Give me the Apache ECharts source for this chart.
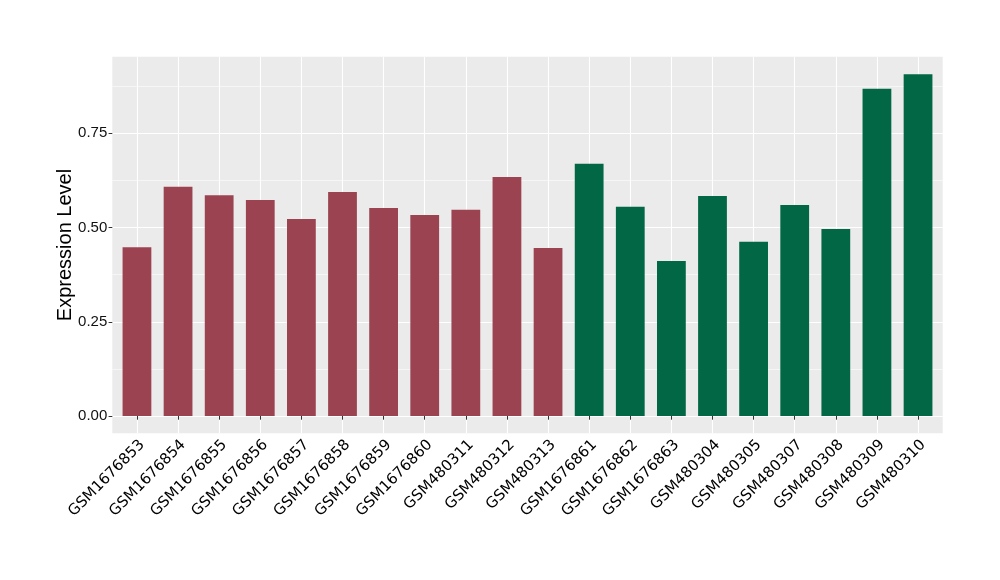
<!DOCTYPE html>
<html>
<head>
<meta charset="utf-8">
<script src="https://cdn.jsdelivr.net/npm/echarts@6/dist/echarts.min.js"></script>
<style>html,body{margin:0;padding:0;background:#fff;}#c{width:1000px;height:580px;}</style>
</head>
<body>
<div id="c"></div>
<script>
var categories = ["GSM1676853","GSM1676854","GSM1676855","GSM1676856","GSM1676857","GSM1676858","GSM1676859","GSM1676860","GSM480311","GSM480312","GSM480313","GSM1676861","GSM1676862","GSM1676863","GSM480304","GSM480305","GSM480307","GSM480308","GSM480309","GSM480310"];
var values = [0.448,0.608,0.586,0.573,0.523,0.594,0.552,0.533,0.547,0.634,0.446,0.669,0.555,0.411,0.584,0.462,0.560,0.496,0.868,0.907];
var groups = ["A","A","A","A","A","A","A","A","A","A","A","B","B","B","B","B","B","B","B","B"];
var groupColors = {A: "#9B4351", B: "#016745"};
var yTicks = [0, 0.25, 0.5, 0.75];
var yMinorTicks = [0.125, 0.375, 0.625, 0.875];
var yMin = -0.0459, yMax = 0.9533;

var chart = echarts.init(document.getElementById('c'), null, {renderer: 'canvas'});
var data = values.map(function (v, i) { return {value: v, itemStyle: {color: groupColors[groups[i]]}}; });

var option = {
  animation: false,
  backgroundColor: '#ffffff',
  grid: [
    {left: 112.3, top: 56.7, width: 830.4, height: 376.6, show: true, backgroundColor: '#EBEBEB', borderWidth: 0, outerBoundsMode: 'none'},
    {left: 116.4, top: 56.7, width: 822.2, height: 376.6, show: false, outerBoundsMode: 'none'}
  ],
  xAxis: [
    {
      type: 'category', gridIndex: 1, data: categories,
      axisLine: {show: false},
      axisTick: {show: true, alignWithLabel: true, length: 3.7, lineStyle: {color: '#333333', width: 1}},
      axisLabel: {rotate: 45, interval: 0, margin: 4, verticalAlign: 'top', fontFamily: 'DejaVu Sans', fontSize: 15, color: '#000000'},
      splitLine: {show: true, alignWithLabel: true, interval: 0, lineStyle: {color: '#ffffff', width: 1.1}}
    },
    {type: 'value', gridIndex: 0, show: false, min: 0, max: 1}
  ],
  yAxis: [
    {
      type: 'value', gridIndex: 0, min: yMin, max: yMax,
      name: 'Expression Level', nameLocation: 'middle', nameGap: 37, nameMoveOverlap: false,
      nameTextStyle: {fontFamily: 'Liberation Sans', fontSize: 20, color: '#000000'},
      axisLine: {show: false},
      axisTick: {show: true, customValues: yTicks, length: 3.7, lineStyle: {color: '#333333', width: 1}},
      axisLabel: {customValues: yTicks, margin: 5, fontFamily: 'Liberation Sans', fontSize: 15, color: '#111111',
        formatter: function (v) { return v.toFixed(2); }},
      splitLine: {show: true, lineStyle: {color: '#ffffff', width: 1.1}}
    },
    {
      type: 'value', gridIndex: 0, min: yMin, max: yMax,
      axisLine: {show: false},
      axisTick: {show: false, customValues: yMinorTicks},
      axisLabel: {show: false, customValues: yMinorTicks},
      splitLine: {show: true, lineStyle: {color: '#ffffff', width: 0.55}}
    },
    {type: 'value', gridIndex: 1, min: yMin, max: yMax, show: false}
  ],
  series: [
    {type: 'bar', xAxisIndex: 0, yAxisIndex: 2, data: data, barWidth: '70%', silent: true}
  ]
};
chart.setOption(option);
</script>
</body>
</html>
